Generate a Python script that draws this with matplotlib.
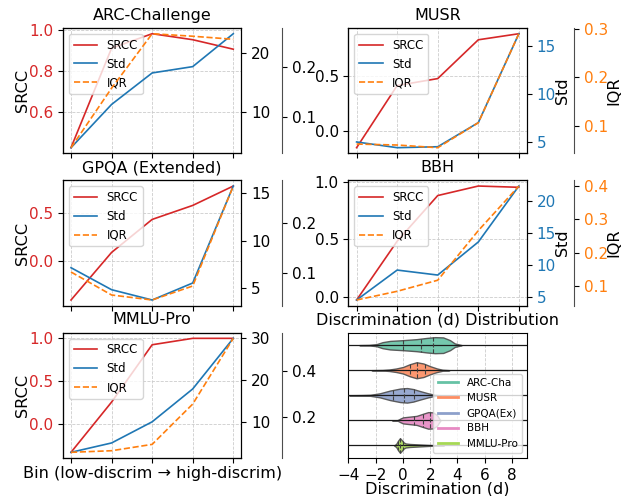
import matplotlib
matplotlib.use("Agg")
import matplotlib.pyplot as plt
from matplotlib.lines import Line2D
import numpy as np

plt.rcParams['font.size'] = 11
plt.rcParams['axes.titlesize'] = 11.5
plt.rcParams['axes.labelsize'] = 11.6

RED = '#d62728'
BLUE = '#1f77b4'
ORANGE = '#ff7f0e'

bins = [0, 1, 2, 3, 4]

# per-benchmark curves
arc_srcc = [0.429, 0.911, 0.981, 0.952, 0.906]
arc_std = [3.94, 11.25, 16.57, 17.64, 23.2]
arc_iqr = [0.040, 0.158, 0.266, 0.261, 0.255]

musr_srcc = [-0.152, 0.412, 0.475, 0.827, 0.882]
musr_std = [4.97, 4.37, 4.47, 7.0, 16.34]
musr_iqr = [0.062, 0.060, 0.0545, 0.106, 0.290]

gpqa_srcc = [-0.415, 0.088, 0.437, 0.585, 0.790]
gpqa_std = [7.12, 4.79, 3.70, 5.50, 15.77]
gpqa_iqr = [0.101, 0.055, 0.045, 0.073, 0.273]

bbh_srcc = [-0.029, 0.484, 0.882, 0.965, 0.954]
bbh_std = [4.58, 9.26, 8.48, 13.65, 22.4]
bbh_iqr = [0.059, 0.085, 0.118, 0.266, 0.399]

mmlu_srcc = [-0.323, 0.257, 0.919, 0.993, 0.993]
mmlu_std = [2.66, 4.89, 9.93, 17.77, 29.83]
mmlu_iqr = [0.042, 0.049, 0.077, 0.255, 0.545]

# violin outlines (d value, half width) and quartiles
violin_labels = ['ARC-Cha', 'MUSR', 'GPQA(Ex)', 'BBH', 'MMLU-Pro']
violin_colors = ['#66c2a5', '#fc8d62', '#8da0cb', '#e78ac3', '#a6d854']

arc_d = [-3.2, -2.5, -1.95, -1.5, -0.95, 0.0, 1.0, 1.75, 2.35, 2.95, 3.45, 3.8, 4.3]
arc_w = [0.003, 0.01, 0.04, 0.12, 0.17, 0.2, 0.24, 0.29, 0.32, 0.31, 0.2, 0.07, 0.003]
arc_q = [0.0, 1.3, 2.2]

musr_d = [-2.3, -1.5, -1.0, -0.5, 0.0, 0.5, 1.0, 1.5, 2.0, 2.5, 2.9, 3.4]
musr_w = [0.003, 0.01, 0.03, 0.07, 0.13, 0.24, 0.32, 0.27, 0.16, 0.07, 0.02, 0.003]
musr_q = [0.5, 1.05, 1.6]

gpqa_d = [-3.95, -3.0, -2.4, -1.7, -0.95, -0.2, 0.3, 0.75, 1.25, 1.85, 2.35, 2.8]
gpqa_w = [0.003, 0.01, 0.02, 0.08, 0.19, 0.27, 0.29, 0.25, 0.17, 0.08, 0.02, 0.003]
gpqa_q = [-0.72, 0.1, 0.8]

bbh_d = [-0.8, -0.4, -0.2, 0.0, 0.5, 1.0, 1.5, 1.85, 2.2, 2.5, 2.65, 2.75]
bbh_w = [0.003, 0.01, 0.07, 0.12, 0.15, 0.18, 0.27, 0.33, 0.32, 0.21, 0.08, 0.003]
bbh_q = [0.8, 1.5, 2.0]

mmlu_d = [-0.65, -0.5, -0.35, -0.22, -0.1, 0.05, 0.2, 0.5, 1.0, 1.5, 2.0, 2.5, 3.0]
mmlu_w = [0.003, 0.06, 0.2, 0.29, 0.22, 0.12, 0.08, 0.06, 0.045, 0.03, 0.015, 0.006, 0.003]
mmlu_q = [-0.38, -0.22, -0.02]


def draw_panel(ax, title, srcc, std, iqr, left_col):
    x = np.array(bins)
    l1, = ax.plot(x, srcc, color=RED, lw=1.2, label='SRCC')
    ax2 = ax.twinx()
    l2, = ax2.plot(x, std, color=BLUE, lw=1.2, label='Std')
    ax3 = ax.twinx()
    ax3.spines['right'].set_position(('axes', 1.23 if left_col else 1.265))
    ax3.spines['right'].set_color('0.3')
    l3, = ax3.plot(x, iqr, color=ORANGE, ls='--', lw=1.2, label='IQR')

    if left_col:
        ax.set_ylabel('SRCC', labelpad=-1)
        ax.tick_params(axis='y', labelcolor=RED)
    else:
        ax2.set_ylabel('Std', labelpad=-1)
        ax2.tick_params(axis='y', labelcolor=BLUE)
        ax3.set_ylabel('IQR', labelpad=-1)
        ax3.tick_params(axis='y', labelcolor=ORANGE)

    ax.set_xticks(x)
    ax.tick_params(axis='x', labelbottom=False)
    ax.grid(True, ls='--', color='0.8', lw=0.6)
    ax.set_title(title)
    ax.legend([l1, l2, l3], ['SRCC', 'Std', 'IQR'], loc='upper left', fontsize=8.5)


fig, axes = plt.subplots(3, 2, figsize=(6.29, 4.96), dpi=100)
fig.subplots_adjust(left=0.1, right=0.8378, top=0.9435, bottom=0.0766,
                    wspace=0.6, hspace=0.215)

draw_panel(axes[0, 0], 'ARC-Challenge', arc_srcc, arc_std, arc_iqr, True)
draw_panel(axes[0, 1], 'MUSR', musr_srcc, musr_std, musr_iqr, False)
draw_panel(axes[1, 0], 'GPQA (Extended)', gpqa_srcc, gpqa_std, gpqa_iqr, True)
draw_panel(axes[1, 1], 'BBH', bbh_srcc, bbh_std, bbh_iqr, False)
draw_panel(axes[2, 0], 'MMLU-Pro', mmlu_srcc, mmlu_std, mmlu_iqr, True)
axes[2, 0].set_xlabel('Bin (low-discrim \u2192 high-discrim)', labelpad=2)

# violin panel
axv = axes[2, 1]
shapes = [(arc_d, arc_w, arc_q), (musr_d, musr_w, musr_q), (gpqa_d, gpqa_w, gpqa_q),
          (bbh_d, bbh_w, bbh_q), (mmlu_d, mmlu_w, mmlu_q)]
stats = []
for d, w, q in shapes:
    stats.append({'coords': np.array(d), 'vals': np.array(w), 'mean': q[1],
                  'median': q[1], 'min': d[0], 'max': d[-1]})
pos = list(range(len(shapes)))
parts = axv.violin(stats, positions=pos, orientation='horizontal',
                   widths=[2 * max(w) for _, w, _ in shapes],
                   showmeans=False, showextrema=False, showmedians=False)
for body, c in zip(parts['bodies'], violin_colors):
    body.set_facecolor(c)
    body.set_edgecolor('0.3')
    body.set_linewidth(1.0)
    body.set_alpha(0.9)
    body.set_zorder(2)

for p, (d, w, q) in zip(pos, shapes):
    axv.axhline(p, color='0.1', lw=0.9, zorder=3)
    for qq in q:
        h = np.interp(qq, d, w)
        axv.plot([qq, qq], [p - h, p + h], color='0.25', lw=0.8, ls='--', zorder=4)

axv.set_ylim(4.5, -0.5)
axv.set_yticks([])
axv.set_xlim(-4, 9.1)
axv.set_xticks([-4, -2, 0, 2, 4, 6, 8])
axv.grid(True, axis='x', ls='--', color='0.8', lw=0.6)
axv.set_axisbelow(True)
axv.set_title('Discrimination (d) Distribution')
axv.set_xlabel('Discrimination (d)', labelpad=-1)
handles = [Line2D([0], [0], color=c, lw=2) for c in violin_colors]
axv.legend(handles, violin_labels, loc='lower right', fontsize=7.5)

fig.savefig('out.png', dpi=100)
